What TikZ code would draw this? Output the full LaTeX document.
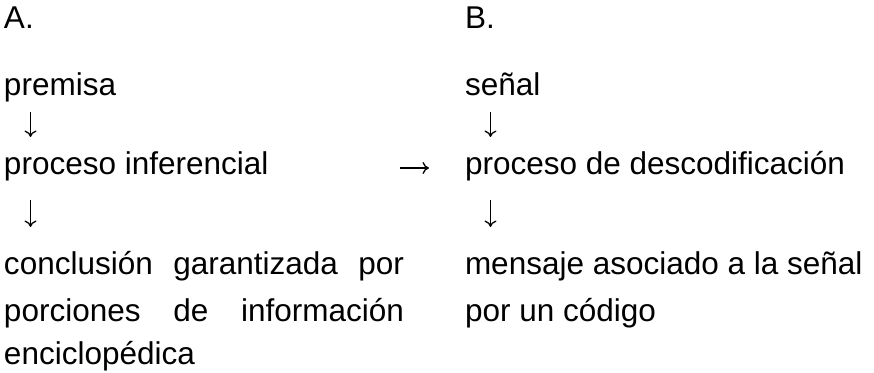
\documentclass[tikz,border=0pt]{standalone}
\usepackage{fontspec}
\usetikzlibrary{arrows.meta}
\setmainfont{Liberation Sans}
\begin{document}
\begin{tikzpicture}[x=1pt,y=1pt,
  txt/.style={inner sep=0pt,outer sep=0pt,anchor=base west,font=\fontsize{31.5}{38}\selectfont},
  arrline/.style={line width=1.3pt,-{To[length=6.5pt,width=12pt,line width=1.3pt]}}]
\useasboundingbox (0,0) rectangle (874,372);
% left column
\node[txt] (A)  at (4,343) {A.};
\node[txt] (a1) at (4,276) {premisa};
\node[txt] (a3) at (4,197) {proceso inferencial};
\node[txt] (a5) at (4,98)  {\makebox[400pt][s]{conclusión garantizada por}};
\node[txt] (a6) at (4,51)  {\makebox[400pt][s]{porciones de información}};
\node[txt] (a7) at (4,8)   {enciclopédica};
% right column
\node[txt] (B)  at (465,343) {B.};
\node[txt] (b1) at (465,276) {señal};
\node[txt] (b3) at (465,197) {proceso de descodificación};
\node[txt] (b5) at (465,98)  {mensaje asociado a la señal};
\node[txt] (b6) at (465,51)  {por un código};
% arrow end points
\coordinate (a2s) at (30.5,260); \coordinate (a2e) at (30.5,235);
\coordinate (a4s) at (30.5,172); \coordinate (a4e) at (30.5,145);
\coordinate (b2s) at (490.5,260); \coordinate (b2e) at (490.5,235);
\coordinate (b4s) at (490.5,172); \coordinate (b4e) at (490.5,145);
\coordinate (ms) at (400,204); \coordinate (me) at (429,204);
\draw[arrline] (a2s) -- (a2e);
\draw[arrline] (a4s) -- (a4e);
\draw[arrline] (b2s) -- (b2e);
\draw[arrline] (b4s) -- (b4e);
\draw[arrline] (ms) -- (me);
\end{tikzpicture}
\end{document}
